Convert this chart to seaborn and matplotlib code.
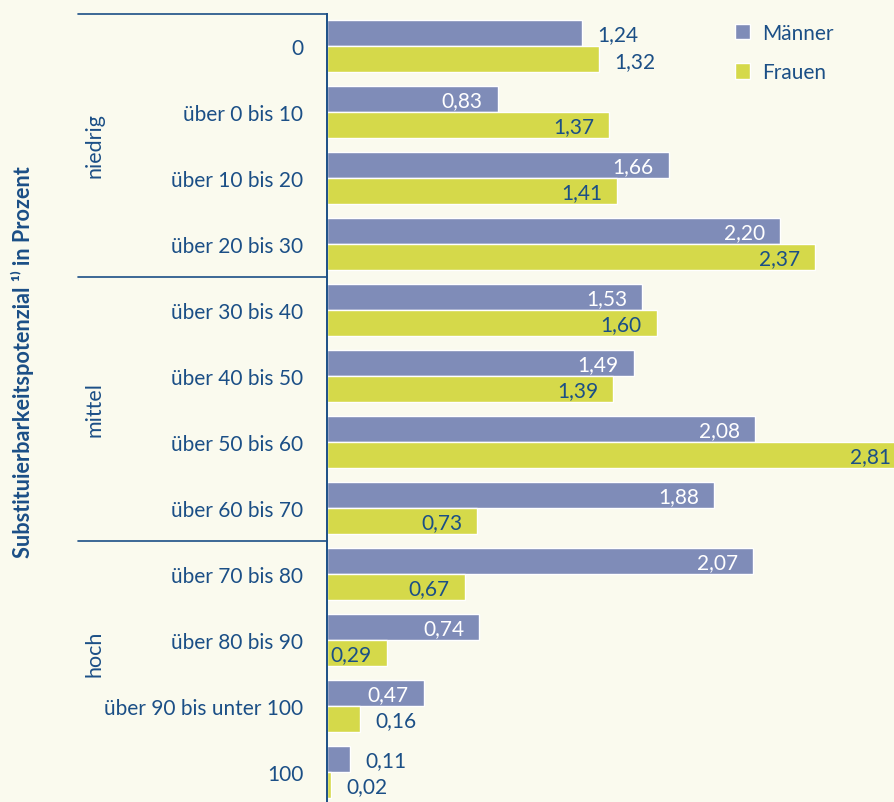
import matplotlib
matplotlib.use("Agg")
import matplotlib.pyplot as plt
import matplotlib.transforms as mtransforms
import seaborn as sns
import pandas as pd

categories = ["0", "über 0 bis 10", "über 10 bis 20", "über 20 bis 30",
              "über 30 bis 40", "über 40 bis 50", "über 50 bis 60", "über 60 bis 70",
              "über 70 bis 80", "über 80 bis 90", "über 90 bis unter 100", "100"]
maenner = [1.24, 0.83, 1.66, 2.20, 1.53, 1.49, 2.08, 1.88, 2.07, 0.74, 0.47, 0.11]
frauen = [1.32, 1.37, 1.41, 2.37, 1.60, 1.39, 2.81, 0.73, 0.67, 0.29, 0.16, 0.02]
series = ["Männer", "Frauen"]
groups = ["niedrig", "mittel", "hoch"]
ylabel = "Substituierbarkeitspotenzial ¹⁾ in Prozent"

BG = "#fafaee"
TXT = "#1b4f86"
C_M = "#7f8cb8"
C_F = "#d5d94a"
FONT = ["Lato", "DejaVu Sans"]
FS = 15

sns.set_style("white")
plt.rcParams["font.family"] = FONT
plt.rcParams["text.color"] = TXT

df = pd.DataFrame({
    "Kategorie": categories * 2,
    "Wert": maenner + frauen,
    "Geschlecht": [series[0]] * len(categories) + [series[1]] * len(categories),
})

W, H = 894, 803
fig = plt.figure(figsize=(W / 100, H / 100), dpi=100, facecolor=BG)
ax_left = 327 / W
ax_top = 15 / H
ax = fig.add_axes([ax_left, 0, 1 - ax_left, 1 - ax_top], facecolor=BG)

sns.barplot(data=df, y="Kategorie", x="Wert", hue="Geschlecht", orient="h",
            palette=[C_M, C_F], order=categories, hue_order=series,
            width=0.8, ax=ax, saturation=1, legend=True)

ax.set_xlim(0, (W - 327) / 206)
ax.set_ylim(11.455, -0.485)
ax.set_xlabel("")
ax.set_ylabel("")
ax.set_xticks([])
for s in ["top", "right", "bottom"]:
    ax.spines[s].set_visible(False)
ax.spines["left"].set_color(TXT)
ax.spines["left"].set_linewidth(1.4)
ax.tick_params(axis="y", length=0, pad=17, labelsize=FS, labelcolor=TXT)

# value labels
for ci, cont in enumerate(ax.containers):
    vals = maenner if ci == 0 else frauen
    for i, (patch, v) in enumerate(zip(cont.patches, vals)):
        yc = patch.get_y() + patch.get_height() / 2
        txt = f"{v:.2f}".replace(".", ",")
        outside = v < 0.25 or i == 0
        if outside:
            ax.annotate(txt, (v, yc), xytext=(11, -1), textcoords="offset points",
                        ha="left", va="center", fontsize=FS, color=TXT,
                        annotation_clip=False)
        else:
            ax.annotate(txt, (v, yc), xytext=(-11, -1), textcoords="offset points",
                        ha="right", va="center", fontsize=FS,
                        color="white" if ci == 0 else TXT, annotation_clip=False)

# group separators
blend = mtransforms.blended_transform_factory(ax.transAxes, ax.transData)
x0 = (78 - 327) / (W - 327)
for yv in [-0.485, 3.5, 7.5]:
    ax.plot([x0, 0], [yv, yv], transform=blend, color=TXT, lw=1.2, clip_on=False)

gx = (95 - 327) / (W - 327)
for g, yv in zip(groups, [1.5, 5.5, 9.2]):
    ax.text(gx, yv, g, transform=blend, rotation=90, ha="center", va="center",
            fontsize=15.5, color=TXT)

fig.text(22 / W, 1 - 362 / H, ylabel, rotation=90, ha="center", va="center",
         fontsize=15.6, fontweight="bold", color=TXT)

leg = ax.legend(loc="upper left", bbox_to_anchor=((722 - 327) / (W - 327), 1.005),
                frameon=False, fontsize=FS, handlelength=0.75, handleheight=0.75,
                labelspacing=0.95, handletextpad=0.6, borderaxespad=0.2)
for t in leg.get_texts():
    t.set_color(TXT)

fig.savefig("out.png", dpi=100, facecolor=BG)
